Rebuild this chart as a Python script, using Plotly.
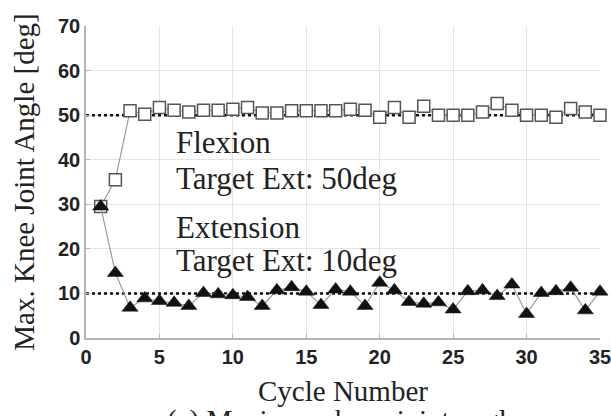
import plotly.graph_objects as go

cycles = list(range(1, 36))
flexion = [29.5, 35.5, 51.0, 50.2, 51.7, 51.1, 50.7, 51.1, 51.1, 51.3, 51.7, 50.5, 50.5, 51.0, 51.0,
           51.0, 51.0, 51.3, 51.1, 49.5, 51.7, 49.5, 52.0, 50.0, 50.0, 50.0, 50.7, 52.6, 51.1, 50.0,
           50.0, 49.5, 51.5, 50.7, 50.0]
extension = [29.5, 14.6, 6.8, 8.9, 8.3, 7.9, 7.2, 10.1, 9.8, 9.6, 9.2, 7.2, 10.7, 11.4, 10.4,
             7.4, 10.9, 10.4, 7.2, 12.4, 10.7, 8.1, 7.7, 8.0, 6.4, 10.5, 10.7, 9.4, 12.0, 5.4,
             10.1, 10.5, 11.3, 6.2, 10.4]
targets = [50, 10]
target_x = [0, 35]
x_ticks = [0, 5, 10, 15, 20, 25, 30, 35]
y_ticks = [0, 10, 20, 30, 40, 50, 60, 70]
labels = [("Flexion", 43.9), ("Target Ext: 50deg", 35.8), ("Extension", 24.7), ("Target Ext: 10deg", 17.3)]
label_x = 6.0

fig = go.Figure()
for t in targets:
    fig.add_trace(go.Scatter(x=target_x, y=[t, t], mode="lines", cliponaxis=False,
                             line=dict(color="#111", width=2.5, dash="dot"), showlegend=False))
fig.add_trace(go.Scatter(x=cycles, y=flexion, mode="lines+markers", cliponaxis=False,
                         line=dict(color="#9a9a9a", width=1.2),
                         marker=dict(symbol="square", size=12, color="white",
                                     line=dict(color="#555", width=1.5)),
                         showlegend=False))
fig.add_trace(go.Scatter(x=cycles, y=extension, mode="lines+markers", cliponaxis=False,
                         line=dict(color="#9a9a9a", width=1.2),
                         marker=dict(symbol="triangle-up", size=14, color="#111",
                                     line=dict(color="#111", width=0.5)),
                         showlegend=False))

for txt, yv in labels:
    fig.add_annotation(x=label_x, y=yv, xref="x", yref="y", text=txt, showarrow=False,
                       xanchor="left", yanchor="middle",
                       font=dict(family="Liberation Serif", size=31, color="#222"))

fig.add_annotation(x=0.5, y=-0.205, xref="paper", yref="paper", text="(a) Maximum knee joint angle",
                   showarrow=False, xanchor="center", yanchor="top",
                   font=dict(family="Liberation Serif", size=29, color="#222"))

axis_common = dict(showgrid=True, gridcolor="#e4e4e4", gridwidth=1, zeroline=False,
                   showline=True, linecolor="#b5b5b5", linewidth=1.5,
                   ticks="inside", ticklen=4, tickcolor="#b5b5b5", automargin=False,
                   ticklabeloverflow="allow",
                   tickfont=dict(family="Liberation Sans", size=20, color="#222", weight="bold"))

fig.update_xaxes(range=[0, 35], tickvals=x_ticks, **axis_common,
                 title=dict(text="Cycle Number", standoff=14,
                            font=dict(family="Liberation Serif", size=29, color="#222")))
fig.update_yaxes(range=[0, 70], tickvals=y_ticks, **axis_common,
                 title=dict(text="Max. Knee Joint Angle [deg]", standoff=15,
                            font=dict(family="Liberation Serif", size=29, color="#222")))

fig.update_layout(width=611, height=416, margin=dict(l=86, r=11, t=26, b=78),
                  paper_bgcolor="white", plot_bgcolor="white")
fig.write_html("out.html",
               post_script="document.body.style.margin='0';document.body.style.overflow='hidden';",
               config={"displayModeBar": False})
